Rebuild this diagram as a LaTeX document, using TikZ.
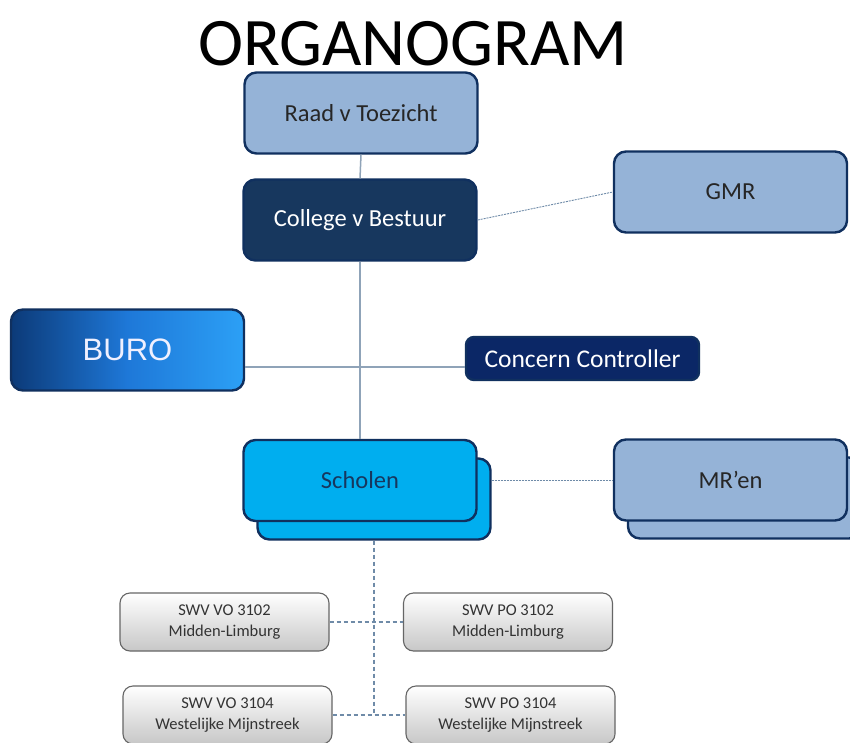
\documentclass[tikz,border=0pt]{standalone}
\usepackage{fontspec}
\setmainfont{Carlito}
\newfontfamily\arialfont{Liberation Sans}
\usetikzlibrary{arrows.meta}
\definecolor{lightbl}{HTML}{95B3D7}
\definecolor{navy}{HTML}{17375E}
\definecolor{edgebl}{HTML}{10305F}
\definecolor{ccnavy}{HTML}{0B2766}
\definecolor{schoolbl}{HTML}{00AEEF}
\definecolor{buroleft}{HTML}{0C3A78}
\definecolor{buromid}{HTML}{1E78D8}
\definecolor{buroright}{HTML}{2CA0F6}
\definecolor{linebl}{HTML}{8FA3B8}
\definecolor{dashbl}{HTML}{6F8BA8}
\tikzset{
  box/.style={draw=edgebl, line width=2.4pt, rounded corners=12pt, minimum width=233pt, minimum height=81pt, font=\fontsize{24.5}{28}\selectfont},
  lightbox/.style={box, fill=lightbl, text=black!85},
  swvbox/.style={draw=black!60, line width=1.1pt, rounded corners=10pt, top color=white, bottom color=black!22, minimum width=209pt, minimum height=58pt, align=center, text=black!80, font=\fontsize{16.5}{20.5}\selectfont},
  conn/.style={draw=linebl, line width=1.5pt},
  dashconn/.style={draw=dashbl, line width=1.1pt, dash pattern=on 4pt off 3pt},
}
\begin{document}
\begin{tikzpicture}[x=1pt,y=-1pt]
\clip (0,0) rectangle (850,743);
\fill[white] (0,0) rectangle (850,743);
\node[font=\fontsize{68}{70}\selectfont] (title) at (413,44) {ORGANOGRAM};
\node[lightbox] (raad) at (361,113) {Raad v Toezicht};
\node[box, fill=navy, text=white] (college) at (360,220) {College v Bestuur};
\node[lightbox] (gmr) at (730.5,192) {GMR};
\node[box, left color=buroleft, right color=buroright, middle color=buromid, text=blue!6, font=\arialfont\fontsize{31}{34}\selectfont] (buro) at (127.5,350) {BURO};
\node[box, fill=ccnavy, text=white, minimum height=43pt, rounded corners=8pt, font=\fontsize{25.5}{28}\selectfont] (cc) at (582.5,358.5) {Concern Controller};
\node[box, fill=schoolbl] (scholenb) at (374,499) {};
\node[box, fill=schoolbl, text=navy] (scholen) at (360,480.5) {Scholen};
\node[lightbox] (mrb) at (744.5,498) {};
\node[lightbox] (mr) at (730.5,480) {MR’en};
\node[swvbox] (vo1) at (224.5,622) {SWV VO 3102\\Midden-Limburg};
\node[swvbox] (po1) at (508,622) {SWV PO 3102\\Midden-Limburg};
\node[swvbox] (vo2) at (227.5,715) {SWV VO 3104\\Westelijke Mijnstreek};
\node[swvbox] (po2) at (510.5,715) {SWV PO 3104\\Westelijke Mijnstreek};
\draw[conn] (raad.south) -- (college.north);
\draw[conn] (college.south) -- (scholen.north);
\draw[conn] ([yshift=-17pt]buro.east) -- ([yshift=-17pt]buro.east -| cc.west);
\draw[dashconn, line width=0.9pt, dash pattern=on 2pt off 1pt] (college.east) -- (gmr.west);
\draw[dashconn, line width=0.9pt, dash pattern=on 2pt off 1pt] (scholenb.east |- mr.west) -- (mr.west);
\draw[dashconn] (scholenb.south) -- (scholenb.south |- vo2.east);
\draw[dashconn] (vo1.east) -- (po1.west);
\draw[dashconn] (vo2.east) -- (po2.west);
\end{tikzpicture}
\end{document}
